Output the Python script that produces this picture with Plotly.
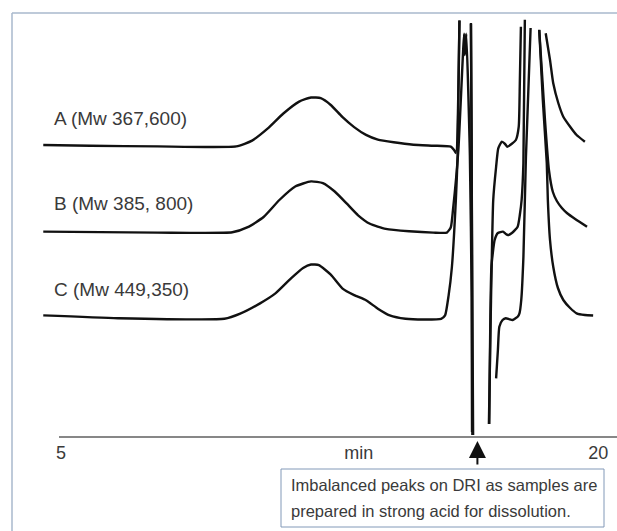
import plotly.graph_objects as go

# ---------------- data (retention time in min, detector signal in arbitrary units) ----------------
sample_names = ["A (Mw 367,600)", "B (Mw 385, 800)", "C (Mw 449,350)"]
label_signal = [319, 234, 148]

time_A = [4.51, 5.82, 7.69, 9.88, 10.32, 10.75, 11.19, 11.63, 11.96, 12.23, 12.51, 12.83, 13.16, 13.49,
          13.82, 14.26, 14.81, 15.36, 15.85, 15.94, 15.99, 16.09, None,
          16.41, 16.43, 16.45, None,
          16.91, 16.96, 17.03, 17.11, 17.17, 17.27, 17.36, 17.42, 17.54, 17.66, 17.74, 17.77, 17.80, None,
          18.49, 18.61, 18.70, 18.84, 18.98, 19.17, 19.35, 19.58]
signal_A = [292, 291.3, 290.6, 290.6, 296.4, 308.3, 323.5, 335.4, 339.5, 338.8, 332, 320.1, 309.9, 302.1,
            297.4, 294.7, 292.3, 291.3, 290.3, 287, 284, 416.5, None,
            414, 290, 2, None,
            13, 120, 237, 270, 288.7, 295.3, 293, 290.3, 293, 297, 310.3, 354, 410.3, None,
            403.7, 377, 353.7, 334, 320.3, 310.3, 302, 295.3]

time_B = [4.51, 7.69, 9.77, 10.20, 10.64, 11.08, 11.52, 11.96, 12.29, 12.62, 12.95, 13.27, 13.60, 14.04,
          14.69, 15.36, 15.74, 15.85, 15.91, 16.06, 16.22, 16.24, 16.28, 16.38, 16.43, 16.44, None,
          16.92, 16.94, 16.98, 17.07, 17.16, 17.30, 17.38, 17.44, 17.55, 17.71, 17.77, 17.82, 17.87, 17.91, None,
          18.31, 18.47, 18.58, 18.69, 18.80, 18.94, 19.08, 19.31, 19.64]
signal_B = [205.4, 204.4, 204.7, 209.8, 220, 237, 250.5, 255.6, 253.9, 245.5, 233.6, 221.7, 213.2, 208.1,
            205.7, 204.4, 204.4, 209.8, 227, 287, 403.3, 382, 403.3, 282, 140, 5, None,
            13, 87, 170.3, 197, 204, 205.3, 203, 202, 204, 210.3, 222, 237, 274, 417.3, None,
            407, 317, 267, 245, 236, 229, 224, 218, 210.3]

time_C = [4.51, 6.59, 9.55, 9.99, 10.53, 10.97, 11.41, 11.74, 11.96, 12.18, 12.51, 12.83, 13.16, 13.49,
          13.82, 14.15, 14.59, 15.14, 15.58, 15.69, 15.79, 15.88, 15.99, 16.04, 16.09, None,
          16.41, 16.44, 16.47, None,
          17.11, 17.16, 17.20, 17.29, 17.38, 17.48, 17.57, 17.71, 17.76, 17.81, 17.87, 17.94, 18.07, None,
          18.31, 18.41, 18.52, 18.55, 18.61, 18.70, 18.83, 18.98, 19.17, 19.35, 19.58, 19.81]
signal_C = [121.6, 118.8, 118.2, 123.3, 133.4, 143.6, 158.9, 169.1, 172.5, 171.8, 162.3, 148.7, 141.9, 136.8,
            128.3, 121.6, 118.2, 117.5, 118.2, 121.6, 141.9, 170, 237, 282, 416.5, None,
            413, 200, 2, None,
            58.7, 87, 110.3, 117, 118.7, 117.7, 117, 120.3, 123.7, 137, 180, 280, 409, None,
            407.3, 337, 274, 237, 197, 170.3, 149, 137, 129, 123.7, 122, 121.5]

tick_values = [5, 13.29, 19.95]
tick_labels = ["5", "min", "20"]

arrow_time = 16.59
note_lines = ["Imbalanced peaks on DRI as samples are",
              "prepared in strong acid for dissolution."]

# ---------------- figure ----------------
W, H = 617, 531
ML, MR, MT, MB = 12, 0, 13, 94
FONT = "Liberation Sans, Arial, sans-serif"
TEXT = "#3a3a3a"
FRAME = "#a9b8cc"
BOX = "#8299b8"

fig = go.Figure()
for t, s in [(time_A, signal_A), (time_B, signal_B), (time_C, signal_C)]:
    fig.add_trace(go.Scatter(x=t, y=s, mode="lines", connectgaps=False,
                             line=dict(color="#111111", width=2.4, shape="spline", smoothing=0.5),
                             hoverinfo="skip", showlegend=False))

for name, ys in zip(sample_names, label_signal):
    fig.add_annotation(x=4.74, y=ys, xref="x", yref="y", text=name, showarrow=False,
                       xanchor="left", yanchor="middle",
                       font=dict(family=FONT, size=19, color=TEXT))

ph = H - MT - MB
pw = W - ML - MR
def py(pix):
    return (H - MB - pix) / ph
def px(pix):
    return (pix - ML) / pw

shapes = [
    # frame (top and left)
    dict(type="line", xref="paper", yref="paper", x0=0, x1=1, y0=1, y1=1,
         line=dict(color=FRAME, width=1.5)),
    dict(type="line", xref="paper", yref="paper", x0=0, x1=0, y0=1, y1=py(H + 2),
         line=dict(color=FRAME, width=1.5)),
    # time axis line
    dict(type="line", xref="paper", yref="paper", x0=px(59), x1=1, y0=0, y1=0,
         line=dict(color="#111111", width=1.2)),
    # note box
    dict(type="rect", xref="paper", yref="paper", x0=px(281), x1=px(604), y0=py(469), y1=py(527),
         line=dict(color=BOX, width=1), fillcolor="rgba(0,0,0,0)"),
]
fig.update_layout(shapes=shapes)

fig.add_annotation(x=arrow_time, y=py(441), xref="x", yref="paper", ax=0, ay=25,
                   axref="pixel", ayref="pixel", text="", showarrow=True,
                   arrowhead=2, arrowsize=1.7, arrowwidth=2, arrowcolor="#111111")

for i, line in enumerate(note_lines):
    fig.add_annotation(x=px(289), y=py(485 + 26 * i), xref="paper", yref="paper", text=line,
                       showarrow=False, xanchor="left", yanchor="middle",
                       font=dict(family=FONT, size=16.5, color=TEXT))

fig.update_layout(
    width=W, height=H,
    margin=dict(l=ML, r=MR, t=MT, b=MB, pad=0),
    paper_bgcolor="white", plot_bgcolor="white",
    xaxis=dict(range=[3.64, 20.474], showgrid=False, zeroline=False, showline=False,
               tickmode="array", tickvals=tick_values, ticktext=tick_labels, ticks="",
               ticklabelstandoff=3,
               tickfont=dict(family=FONT, size=18, color=TEXT), fixedrange=True),
    yaxis=dict(range=[0, 424], showgrid=False, zeroline=False, showline=False,
               showticklabels=False, ticks="", fixedrange=True),
)

fig.write_html("out.html", config={"displayModeBar": False},
               post_script="document.body.style.margin='0px';document.body.style.overflow='hidden';")
